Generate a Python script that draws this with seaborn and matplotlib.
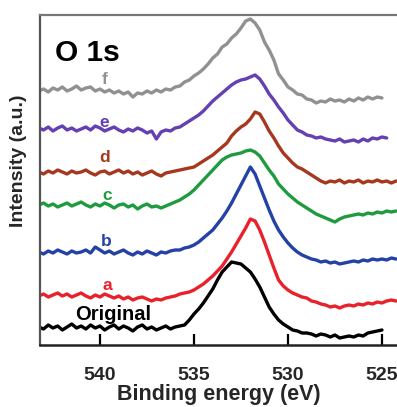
import numpy as np
import pandas as pd
import matplotlib
matplotlib.use("Agg")
import matplotlib.pyplot as plt
import seaborn as sns

# Scan: binding energy from 543.25 eV down to 524.25 eV in 0.25 eV steps
E_START, E_STEP, N_POINTS = 543.25, 0.25, 77
energy = E_START - E_STEP * np.arange(N_POINTS)

NA = np.nan

# Stacked O 1s spectra (intensity, a.u., already offset for display)
f_int = [254, 256, 253, 257, 255, 258, 254, 256, 259, 255, 257, 258, 254, 256, 253, 255,
         252, 254, 251, 253, 248, 252, 251, 254, 252, 255, 253, 256, 255, 258, 259, 263,
         265, 269, 272, 276, 281, 287, 291, 298, 301, 307, 311, 317, 324, 326, 322, 315,
         303, 295, 285, 271, 265, 258, 255, 251, 250, 246, 245, 242, 244, 243, 246, 244,
         245, 243, 246, 244, 247, 245, 248, 246, 248, 247, NA, NA, NA]
e_int = [217, 215, 218, 214, 217, 219, 215, 217, 214, 216, 218, 215, 219, 217, 214, 216,
         218, 215, 213, 216, 214, 217, 215, 212, 214, 206, 213, 215, 214, 217, 218, 221,
         224, 227, 230, 234, 239, 244, 248, 252, 256, 260, 263, 265, 266, 268, 270, 266,
         259, 251, 245, 238, 232, 225, 220, 215, 213, 210, 209, 207, 208, 206, 205, 204,
         206, 203, 204, 205, 203, 206, 204, 207, 206, 208, 207, NA, NA]
d_int = [173, 171, 174, 172, 175, 173, 171, 174, 172, 173, 175, 172, 170, 173, 174, 171,
         173, 175, 172, 174, 171, 173, 170, 172, 174, 171, 169, 172, 173, 174, 175, 176,
         177, 178, 181, 184, 187, 190, 194, 198, 202, 209, 214, 218, 221, 226, 233, 231,
         223, 214, 207, 199, 192, 187, 182, 178, 176, 173, 170, 167, 164, 162, 164, 163,
         165, 162, 164, 163, 165, 162, 164, 163, 165, 163, 164, 162, 164]
c_int = [140, 142, 139, 141, 138, 140, 142, 139, 141, 143, 140, 138, 141, 139, 142, 140,
         137, 140, 141, 138, 140, 136, 139, 141, 138, 139, 137, 139, 141, 143, 145, 148,
         151, 155, 160, 165, 170, 175, 180, 185, 188, 190, 191, 192, 194, 195, 193, 189,
         182, 175, 169, 161, 156, 151, 147, 143, 140, 137, 134, 131, 129, 127, 125, 123,
         126, 128, 129, 130, 131, 130, 132, 131, 133, 132, 134, 133, 134]
b_int = [93, 91, 94, 92, 95, 93, 91, 94, 92, 93, 95, 92, 98, 95, 92, 94,
         91, 93, 95, 92, 90, 93, 91, 94, 92, 90, 93, 92, 94, 95, 95, 97,
         98, 100, 103, 107, 111, 115, 121, 127, 134, 142, 151, 160, 169, 178, 171, 159,
         147, 135, 124, 115, 108, 102, 97, 93, 90, 88, 86, 85, 83, 84, 82, 83,
         81, 82, 83, 84, 83, 85, 84, 86, 85, 86, 85, 87, 86]
a_int = [49, 51, 48, 50, 52, 49, 51, 48, 50, 52, 49, 47, 50, 48, 51, 49,
         47, 49, 46, 48, 45, 47, 48, 46, 44, 46, 45, 47, 48, 49, 51, 52,
         53, 55, 58, 61, 65, 69, 74, 79, 86, 93, 101, 109, 117, 126, 124, 115,
         103, 90, 77, 65, 59, 55, 52, 50, 48, 47, 44, 43, 41, 40, 38, 39,
         37, 39, 40, 39, 41, 40, 42, 41, 43, 42, 44, 45, 44]
orig_int = [18, 16, 20, 17, 19, 15, 18, 21, 17, 19, 16, 20, 17, 19, 15, 18,
            20, 16, 19, 17, 14, 18, 20, 16, 18, 15, 17, 19, 16, 18, 19, 20,
            25, 31, 36, 42, 49, 56, 65, 73, 78, 83, 82, 81, 77, 73, 66, 58,
            48, 38, 31, 25, 21, 18, 15, 14, 12, 12, 11, 9, 11, 10, 8, 10,
            7, 8, 9, 8, 10, 9, 12, 13, 14, 15, NA, NA, NA]

samples = ["f", "e", "d", "c", "b", "a", "Original"]
spectra = [f_int, e_int, d_int, c_int, b_int, a_int, orig_int]
colors = ["#919191", "#6440b2", "#a5381f", "#1f9b3f", "#2441a6", "#e8212b", "#000000"]

# Where each sample name sits (energy in eV, intensity)
label_pos = [(539.73, 265), (539.79, 222), (539.73, 187), (539.63, 149),
             (539.68, 103), (539.63, 60), (539.31, 31)]

df = pd.concat(
    [pd.DataFrame({"energy": energy, "intensity": vals, "sample": name})
     for name, vals in zip(samples, spectra)],
    ignore_index=True,
).dropna()

sns.set_style("white")
plt.rcParams["font.family"] = ["Liberation Sans", "DejaVu Sans"]
plt.rcParams["font.weight"] = "bold"

fig = plt.figure(figsize=(3.97, 4.07), dpi=100)
ax = fig.add_axes([40 / 397, 1 - 345 / 407, 1 - 40 / 397, 330 / 407])

sns.lineplot(data=df, x="energy", y="intensity", hue="sample", hue_order=samples,
             palette=colors, estimator=None, sort=True, linewidth=2.4,
             legend=False, ax=ax)

ax.set_xlim(543.19, 524.20)
ax.set_ylim(0, 330)

ax.set_xticks([540, 535, 530, 525])
ax.set_xticklabels(["540", "535", "530", "525"], fontsize=14, fontweight="bold")
ax.tick_params(axis="x", bottom=True, direction="in", length=8, width=1.6,
               color="black", pad=16)
ax.set_yticks([])

ax.set_xlabel("Binding energy (eV)", fontsize=15.5, fontweight="bold", labelpad=0)
ax.set_ylabel("Intensity (a.u.)", fontsize=14, fontweight="bold")
ax.yaxis.set_label_coords(-0.059, 0.558)
ax.yaxis.label.set_va("center")

for side in ["left", "top", "bottom"]:
    ax.spines[side].set_visible(True)
ax.spines["right"].set_visible(False)
ax.spines["left"].set_color("#555555")
ax.spines["left"].set_linewidth(1.6)
ax.spines["top"].set_color("#777777")
ax.spines["top"].set_linewidth(1.6)
ax.spines["bottom"].set_color("#222222")
ax.spines["bottom"].set_linewidth(1.8)

ax.text(0.043, 0.885, "O 1s", transform=ax.transAxes, fontsize=21.5,
        fontweight="bold", color="black", ha="left", va="center")

for name, color, (ex, iy) in zip(samples, colors, label_pos):
    size = 14.5 if name == "Original" else 12.5
    ax.text(ex, iy, name, color=color, fontsize=size, fontweight="bold",
            ha="center", va="center")

fig.savefig("out.png", dpi=100)
